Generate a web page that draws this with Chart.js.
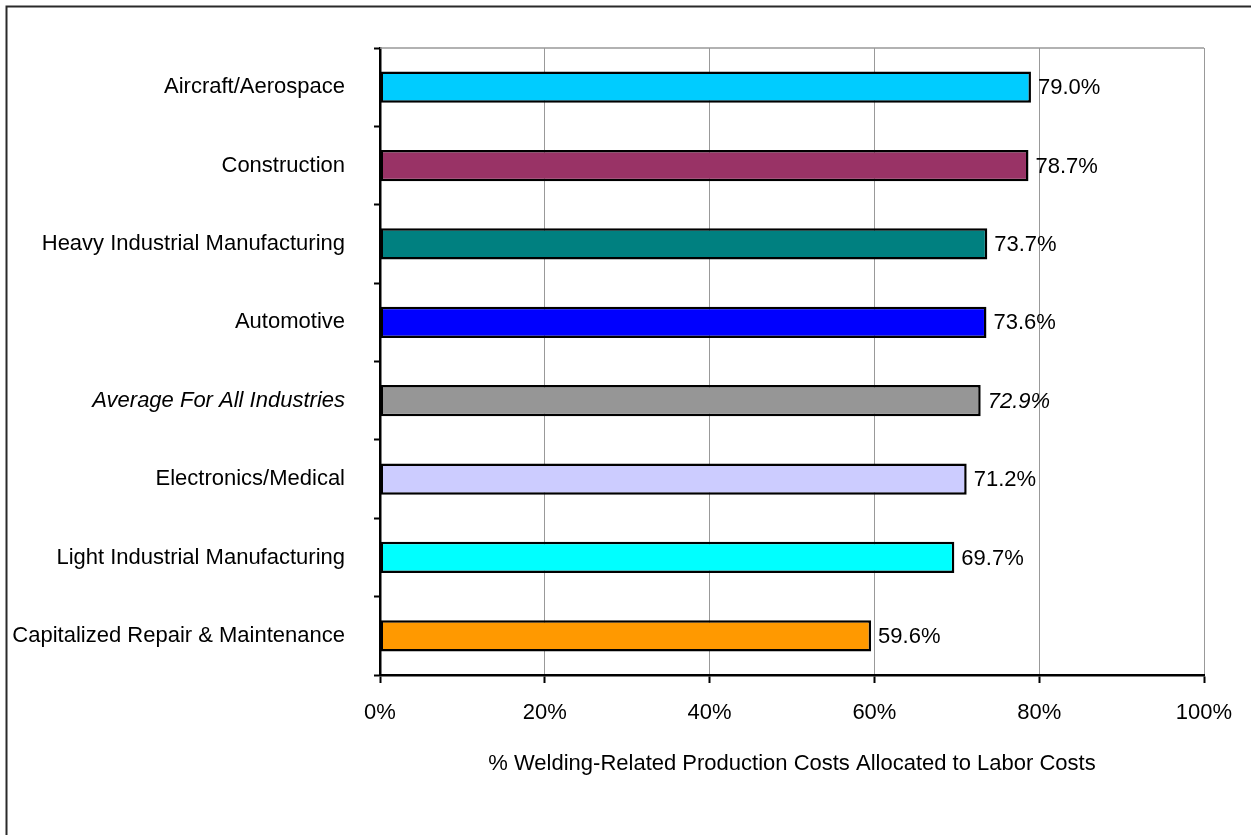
<!DOCTYPE html>
<html>
<head>
<meta charset="utf-8">
<script src="https://cdn.jsdelivr.net/npm/chart.js@4.4.1/dist/chart.umd.min.js"></script>
<style>
  html, body { margin: 0; padding: 0; background: #fff; }
  canvas { display: block; }
</style>
</head>
<body>
<canvas id="c" width="1251" height="835"></canvas>
<script>
const categories = [
  "Aircraft/Aerospace",
  "Construction",
  "Heavy Industrial Manufacturing",
  "Automotive",
  "Average For All Industries",
  "Electronics/Medical",
  "Light Industrial Manufacturing",
  "Capitalized Repair & Maintenance"
];
const laborShare = [79.0, 78.7, 73.7, 73.6, 72.9, 71.2, 69.7, 59.6];
const barColors = ["#00CCFF", "#993366", "#008080", "#0000FF", "#969696", "#CCCCFF", "#00FFFF", "#FF9900"];
const italicIndex = 4;
const xTickValues = [0, 20, 40, 60, 80, 100];
const xTitle = "% Welding-Related Production Costs Allocated to Labor Costs";

const FONT = '"Liberation Sans", Arial, sans-serif';
const FS = 22;

const frame = {
  id: 'frame',
  beforeDraw(chart) {
    const ctx = chart.ctx;
    ctx.save();
    ctx.fillStyle = '#fff';
    ctx.fillRect(0, 0, chart.width, chart.height);
    ctx.strokeStyle = '#2a2a2a';
    ctx.lineWidth = 2;
    ctx.strokeRect(6.5, 6.5, 3000, 3000);
    ctx.restore();
  },
  beforeDatasetsDraw(chart) {
    const ctx = chart.ctx, a = chart.chartArea;
    ctx.save();
    ctx.strokeStyle = '#999';
    ctx.lineWidth = 1.5;
    ctx.beginPath();
    ctx.moveTo(a.left, a.top);
    ctx.lineTo(a.right, a.top);
    ctx.stroke();
    ctx.restore();
  }
};

const valueLabels = {
  id: 'valueLabels',
  afterDatasetsDraw(chart) {
    const ctx = chart.ctx;
    const meta = chart.getDatasetMeta(0);
    ctx.save();
    ctx.fillStyle = '#000';
    ctx.textAlign = 'left';
    ctx.textBaseline = 'middle';
    meta.data.forEach((el, i) => {
      const v = chart.data.datasets[0].data[i];
      ctx.font = (i === italicIndex ? 'italic ' : '') + FS + 'px ' + FONT;
      ctx.fillText(v.toFixed(1) + '%', el.x + 7, el.y + 1);
    });
    ctx.restore();
  }
};

new Chart(document.getElementById('c'), {
  type: 'bar',
  data: {
    labels: categories,
    datasets: [{
      data: laborShare,
      backgroundColor: barColors,
      borderColor: '#000',
      borderWidth: 2.5,
      borderSkipped: false,
      barPercentage: 0.4,
      categoryPercentage: 1.0
    }]
  },
  options: {
    indexAxis: 'y',
    responsive: false,
    animation: false,
    devicePixelRatio: 1,
    layout: { padding: { top: 48, right: 47, left: 0, bottom: 58 } },
    plugins: { legend: { display: false }, tooltip: { enabled: false } },
    scales: {
      x: {
        min: 0, max: 100,
        afterBuildTicks(scale) { scale.ticks = xTickValues.map(v => ({ value: v })); },
        afterFit(scale) { scale.height = 102; },
        grid: { color: '#999', lineWidth: 1, tickColor: '#000', tickWidth: 2, tickLength: 8 },
        border: { display: true, color: '#000', width: 2.5 },
        ticks: {
          color: '#000', padding: 17, maxRotation: 0,
          font: { family: FONT, size: FS },
          callback: v => v + '%'
        },
        title: {
          display: true, text: xTitle, color: '#000',
          font: { family: FONT, size: FS },
          padding: { top: 0, bottom: 0 }
        }
      },
      y: {
        afterFit(scale) { scale.width = 380; },
        grid: { display: true, drawOnChartArea: false, offset: true, tickColor: '#000', tickWidth: 2, tickLength: 6 },
        border: { display: true, color: '#000', width: 2.5 },
        ticks: {
          color: '#000', padding: 29,
          font: (c) => ({ family: FONT, size: FS, style: c.index === italicIndex ? 'italic' : 'normal' })
        }
      }
    }
  },
  plugins: [frame, valueLabels]
});
</script>
</body>
</html>
